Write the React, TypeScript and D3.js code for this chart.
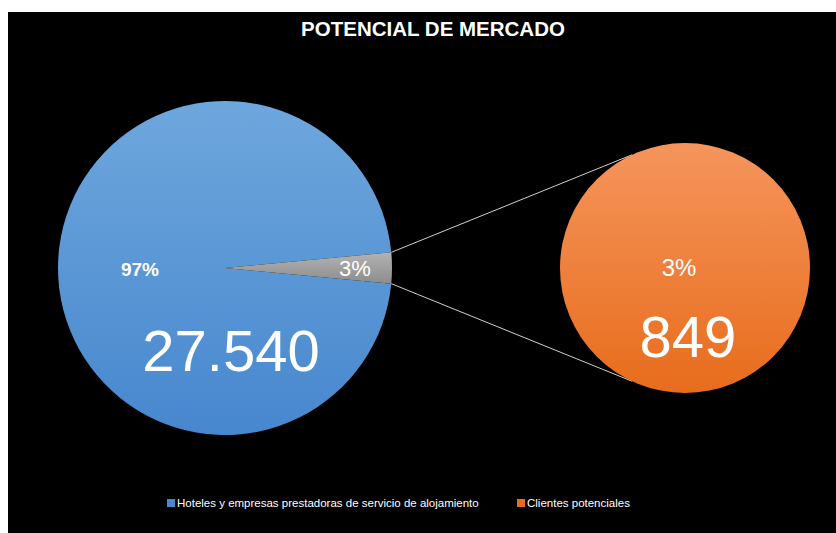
import { useEffect } from "react";
import * as d3 from "d3";

const W = 836;
const H = 533;

const title = "POTENCIAL DE MERCADO";
const categories = ["Hoteles y empresas prestadoras de servicio de alojamiento", "Clientes potenciales"];
const values = [27540, 849];
const mainColors = ["#6ea7dd", "#4787ce"];
const otherColors = ["#b3b3b3", "#8c8c8c"];
const subColors = ["#f5955c", "#e86c1c"];

const FONT = "'Liberation Sans', Arial, sans-serif";
const fmt = (n: number) => d3.format(",")(n).replace(/,/g, ".");

export default function App() {
  useEffect(() => {
    document.body.style.margin = "0";
  }, []);

  const total = d3.sum(values);
  const share = values[1] / total;

  // main pie: small slice centred on the right (3 o'clock)
  const cx = 225, cy = 268, r = 167;
  const pie = d3.pie<number>().sort(null).startAngle(Math.PI / 2 - Math.PI * share).endAngle(Math.PI / 2 - Math.PI * share + 2 * Math.PI);
  const slices = pie([values[1], values[0]]);
  const arc = d3.arc<d3.PieArcDatum<number>>().innerRadius(0).outerRadius(r);
  const small = slices[0];
  const big = slices[1];

  // secondary pie
  const sx = 685, sy = 268, sr = 125;
  const subArc = d3.arc<d3.PieArcDatum<number>>().innerRadius(0).outerRadius(sr);
  const subSlice = d3.pie<number>().sort(null)([values[1]])[0];

  const pt = (x: number, y: number, rad: number, a: number) => [x + rad * Math.sin(a), y - rad * Math.cos(a)];
  const linkA = (25 * Math.PI) / 180;
  const [x1t, y1t] = pt(cx, cy, r, small.startAngle);
  const [x1b, y1b] = pt(cx, cy, r, small.endAngle);
  const [x2t, y2t] = pt(sx, sy, sr, -linkA);
  const [x2b, y2b] = pt(sx, sy, sr, Math.PI + linkA);

  const pct = d3.format(".0%");

  return (
    <svg width={W} height={H} style={{ display: "block" }}>
      <defs>
        <linearGradient id="gMain" x1="0" y1="0" x2="0" y2="1">
          <stop offset="0" stopColor={mainColors[0]} />
          <stop offset="1" stopColor={mainColors[1]} />
        </linearGradient>
        <linearGradient id="gOther" x1="0" y1="0" x2="0" y2="1">
          <stop offset="0" stopColor={otherColors[0]} />
          <stop offset="1" stopColor={otherColors[1]} />
        </linearGradient>
        <linearGradient id="gSub" x1="0" y1="0" x2="0" y2="1">
          <stop offset="0" stopColor={subColors[0]} />
          <stop offset="1" stopColor={subColors[1]} />
        </linearGradient>
      </defs>
      <rect width={W} height={H} fill="#fff" />
      <rect x={8} y={12} width={W - 8} height={H - 12} fill="#000" />

      <text x={433} y={36} textAnchor="middle" fill="#fff" fontFamily={FONT} fontWeight="bold" fontSize={20.5}>
        {title}
      </text>

      <g transform={`translate(${cx},${cy})`}>
        <path d={arc(big) ?? ""} fill="url(#gMain)" />
        <path d={arc(small) ?? ""} fill="url(#gOther)" />
      </g>

      <line x1={x1t} y1={y1t} x2={x2t} y2={y2t} stroke="#d0d0d0" strokeWidth={1} />
      <line x1={x1b} y1={y1b} x2={x2b} y2={y2b} stroke="#d0d0d0" strokeWidth={1} />

      <g transform={`translate(${sx},${sy})`}>
        <path d={subArc(subSlice) ?? ""} fill="url(#gSub)" />
      </g>

      <g fill="#fff" fontFamily={FONT}>
        <text x={140} y={276} textAnchor="middle" fontWeight="bold" fontSize={19}>{pct(values[0] / total)}</text>
        <text x={231} y={371} textAnchor="middle" fontSize={58}>{fmt(values[0])}</text>
        <text x={355} y={276} textAnchor="middle" fontSize={22}>{pct(share)}</text>
        <text x={679} y={276} textAnchor="middle" fontSize={24}>{pct(share)}</text>
        <text x={688} y={357} textAnchor="middle" fontSize={58}>{fmt(values[1])}</text>
      </g>

      <g fontFamily={FONT} fontSize={11.5} fill="#fff">
        <rect x={167} y={499} width={8} height={8} fill={mainColors[1]} />
        <text x={177} y={507}>{categories[0]}</text>
        <rect x={517} y={499} width={8} height={8} fill={subColors[1]} />
        <text x={527} y={507}>{categories[1]}</text>
      </g>
    </svg>
  );
}
